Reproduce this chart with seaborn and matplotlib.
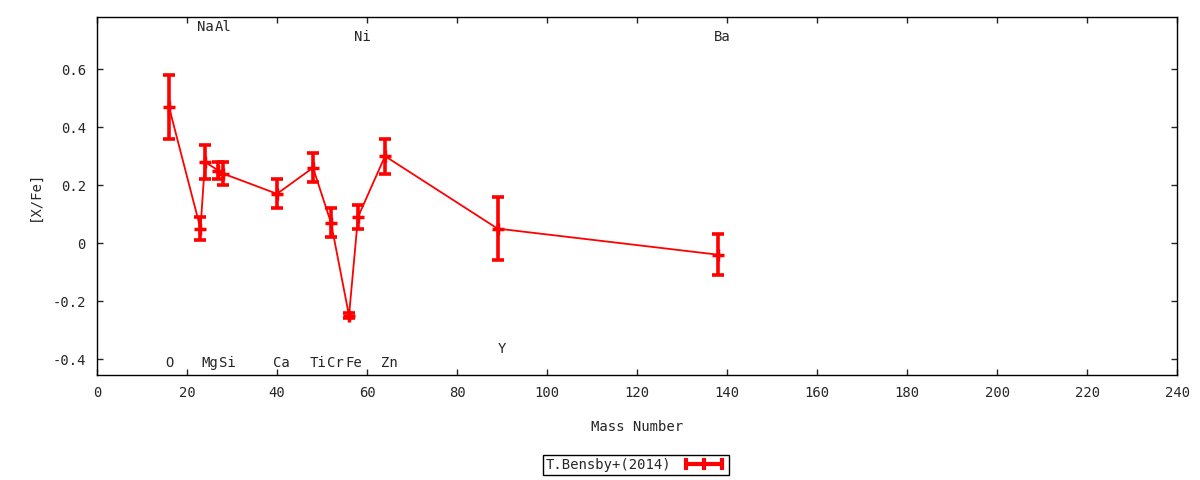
import numpy as np
import pandas as pd
import matplotlib
matplotlib.use("Agg")
import matplotlib.pyplot as plt
from matplotlib.lines import Line2D
from matplotlib.ticker import FuncFormatter
import seaborn as sns

# data
elements = ["O", "Na", "Mg", "Al", "Si", "Ca", "Ti", "Cr", "Fe", "Ni", "Zn", "Y", "Ba"]
mass = [16, 23, 24, 27, 28, 40, 48, 52, 56, 58, 64, 89, 138]
x_fe = [0.47, 0.05, 0.28, 0.25, 0.24, 0.17, 0.26, 0.07, -0.25, 0.09, 0.30, 0.05, -0.04]
x_fe_err = [0.11, 0.04, 0.06, 0.03, 0.04, 0.05, 0.05, 0.05, 0.01, 0.04, 0.06, 0.11, 0.07]
# height of each element name (gnuplot style labels above / below)
label_y = [-0.415, 0.745, -0.415, 0.745, -0.415, -0.415, -0.415, -0.415, -0.415, 0.71, -0.415, -0.365, 0.71]

data = pd.DataFrame({"Mass Number": mass, "[X/Fe]": x_fe, "err": x_fe_err, "el": elements})

sns.set_style("white")
plt.rcParams["font.family"] = ["DejaVu Sans Mono", "DejaVu Sans"]
plt.rcParams["font.size"] = 10

fig = plt.figure(figsize=(12, 4.8), dpi=100)
ax = fig.add_axes([0.0808, 0.21875, 0.9002, 0.74585])

sns.lineplot(data=data, x="Mass Number", y="[X/Fe]", color="red", linewidth=1.3,
             marker="+", markersize=9, markeredgewidth=2.5, markeredgecolor="red",
             legend=False, ax=ax, sort=False)
ax.errorbar(data["Mass Number"], data["[X/Fe]"], yerr=data["err"], fmt="none",
            ecolor="red", elinewidth=2.6, capsize=4.5, capthick=2.6)

for m, lab, ly in zip(data["Mass Number"], data["el"], label_y):
    xx = m + 1 if lab != "O" else m
    ax.text(xx, ly, lab, ha="center", va="center", fontsize=10)

ax.set_xlim(0, 240)
ax.set_ylim(-0.455, 0.78)
ax.set_xticks(np.arange(0, 241, 20))
ax.set_yticks([-0.4, -0.2, 0, 0.2, 0.4, 0.6])
ax.yaxis.set_major_formatter(FuncFormatter(lambda v, p: "0" if abs(v) < 1e-9 else f"{v:.1f}"))
ax.tick_params(direction="in", length=4, width=1, top=True, right=True, bottom=True, left=True,
               labelsize=10, pad=8)
for s in ax.spines.values():
    s.set_color("black")
    s.set_linewidth(1)

ax.set_xlabel("Mass Number", fontsize=10, labelpad=14)
ax.set_ylabel("[X/Fe]", fontsize=10, labelpad=8)

handle = Line2D([], [], color="red", linewidth=3, marker="|", markersize=9, markeredgewidth=3)
leg = fig.legend([handle], ["T.Bensby+(2014)"], loc="center", bbox_to_anchor=(0.53, 0.031),
                 numpoints=3, markerfirst=False, handlelength=3.2, fancybox=False,
                 framealpha=1, edgecolor="black", borderpad=0.2, fontsize=10)
leg.get_frame().set_linewidth(1)

fig.savefig("out.png", dpi=100)
